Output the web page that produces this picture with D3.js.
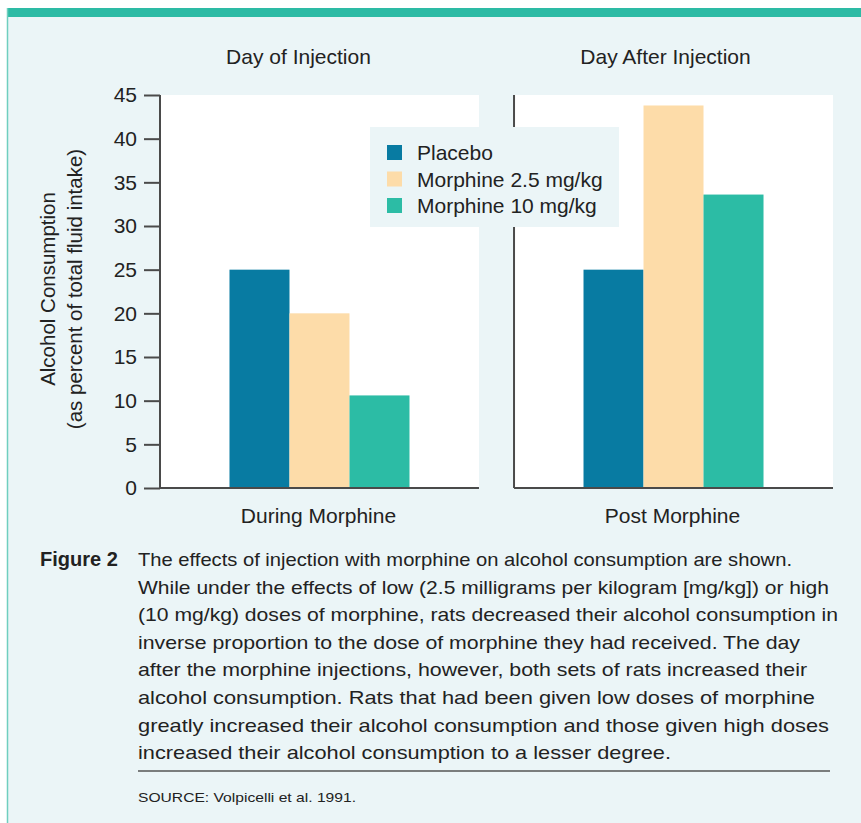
<!DOCTYPE html>
<html>
<head>
<meta charset="utf-8">
<script src="https://cdn.jsdelivr.net/npm/d3@7"></script>
<style>
  body { margin: 0; background: #fff; }
  svg { display: block; font-family: "Liberation Sans", Arial, Helvetica, sans-serif; }
</style>
</head>
<body>
<svg id="chart" width="861" height="823"></svg>
<script>
// data
var groups = ["During Morphine", "Post Morphine"];
var panelTitles = ["Day of Injection", "Day After Injection"];
var seriesNames = ["Placebo", "Morphine 2.5 mg/kg", "Morphine 10 mg/kg"];
var placebo = [25, 25];
var morphineLow = [20, 43.8];
var morphineHigh = [10.6, 33.6];
var yTicks = [0, 5, 10, 15, 20, 25, 30, 35, 40, 45];
var colors = ["#087ba2", "#fddca9", "#2cbca5"];

var captionLines = [
  "The effects of injection with morphine on alcohol consumption are shown.",
  "While under the effects of low (2.5 milligrams per kilogram [mg/kg]) or high",
  "(10 mg/kg) doses of morphine, rats decreased their alcohol consumption in",
  "inverse proportion to the dose of morphine they had received. The day",
  "after the morphine injections, however, both sets of rats increased their",
  "alcohol consumption. Rats that had been given low doses of morphine",
  "greatly increased their alcohol consumption and those given high doses",
  "increased their alcohol consumption to a lesser degree."
];
var captionWidths = [654, 691, 700, 662, 669, 677, 691, 533];

var fs = 21; // chart text size
var ink = "#222";

var svg = d3.select("#chart");

// panel background + teal top band
svg.append("rect").attr("x", 7).attr("y", 8).attr("width", 854).attr("height", 815)
    .attr("fill", "#ebf5f7");
svg.append("rect").attr("x", 7).attr("y", 8).attr("width", 854).attr("height", 9)
    .attr("fill", "#2dbba5");
svg.append("line").attr("x1", 7.5).attr("x2", 7.5).attr("y1", 8).attr("y2", 823)
    .attr("stroke", "#6fcfbf").attr("stroke-width", 1.5);

var y = d3.scaleLinear().domain([0, 45]).range([488, 95]);

var x0 = d3.scaleBand().domain(groups).range([160, 833]).paddingInner(0.099);
var bw = x0.bandwidth();
var x1 = d3.scaleBand().domain(seriesNames).range([bw / 2 - 90, bw / 2 + 90]);

var table = groups.map(function(g, i) {
  return { group: g, title: panelTitles[i], i: i,
           values: [placebo[i], morphineLow[i], morphineHigh[i]] };
});

var panel = svg.selectAll("g.panel")
    .data(table)
  .enter().append("g")
    .attr("class", "panel")
    .attr("transform", function(d) { return "translate(" + x0(d.group) + ",0)"; });

panel.append("rect")
    .attr("x", 1).attr("y", y(45))
    .attr("width", bw - 1).attr("height", y(0) - y(45))
    .attr("fill", "#fff");

panel.selectAll("rect.bar")
    .data(function(d) { return d.values.map(function(v, j) { return { name: seriesNames[j], value: v, c: colors[j] }; }); })
  .enter().append("rect")
    .attr("class", "bar")
    .attr("x", function(d) { return x1(d.name); })
    .attr("width", x1.bandwidth())
    .attr("y", function(d) { return y(d.value); })
    .attr("height", function(d) { return y(0) - y(d.value); })
    .attr("fill", function(d) { return d.c; });

panel.append("text")
    .attr("x", function(d) { return bw / 2 + (d.i === 0 ? -21 : -8); })
    .attr("y", 64)
    .attr("text-anchor", "middle")
    .attr("font-size", fs).attr("fill", ink)
    .text(function(d) { return d.title; });

panel.append("text")
    .attr("x", bw / 2 - 1).attr("y", 523)
    .attr("text-anchor", "middle")
    .attr("font-size", fs).attr("fill", ink)
    .text(function(d) { return d.group; });

// baselines and vertical axis lines
panel.append("line")
    .attr("x1", 0).attr("x2", bw).attr("y1", y(0)).attr("y2", y(0))
    .attr("stroke", "#4a4a4a").attr("stroke-width", 2);
panel.append("line")
    .attr("x1", 0).attr("x2", 0).attr("y1", y(45)).attr("y2", y(0))
    .attr("stroke", "#4a4a4a").attr("stroke-width", 2);

// left axis ticks
var yAxis = d3.axisLeft(y).tickValues(yTicks).tickSize(16).tickPadding(7);
var ax = svg.append("g").attr("transform", "translate(" + x0(groups[0]) + ",0)").call(yAxis);
ax.select(".domain").remove();
ax.selectAll("line").attr("stroke", "#4a4a4a").attr("stroke-width", 2);
ax.selectAll("text").attr("font-size", fs).attr("fill", ink)
    .attr("font-family", "Liberation Sans, Arial, sans-serif");

// y label
var yl = svg.append("g").attr("transform", "translate(0,289) rotate(-90)");
yl.append("text").attr("x", 0).attr("y", 54.5).attr("text-anchor", "middle")
    .attr("font-size", 20.5).attr("fill", ink).text("Alcohol Consumption");
yl.append("text").attr("x", 0).attr("y", 82).attr("text-anchor", "middle")
    .attr("font-size", 20.5).attr("fill", ink).text("(as percent of total fluid intake)");

// legend
var lg = svg.append("g").attr("transform", "translate(370,127)");
lg.append("rect").attr("width", 249).attr("height", 100).attr("fill", "#ebf5f7");
var item = lg.selectAll("g.item")
    .data(seriesNames)
  .enter().append("g")
    .attr("class", "item")
    .attr("transform", function(d, i) { return "translate(17," + (18 + i * 26.5) + ")"; });
item.append("rect").attr("width", 15).attr("height", 15)
    .attr("fill", function(d, i) { return colors[i]; });
item.append("text").attr("x", 30).attr("y", 15)
    .attr("font-size", fs).attr("fill", ink)
    .text(function(d) { return d; });

// caption
svg.append("text").attr("x", 40).attr("y", 566)
    .attr("font-size", 20).attr("font-weight", "bold").attr("fill", ink)
    .text("Figure 2");
svg.selectAll("text.cap")
    .data(captionLines)
  .enter().append("text")
    .attr("class", "cap")
    .attr("x", 138)
    .attr("y", function(d, i) { return 566 + i * 27.6; })
    .attr("font-size", 18.5).attr("fill", ink)
    .attr("textLength", function(d, i) { return captionWidths[i]; })
    .attr("lengthAdjust", "spacingAndGlyphs")
    .text(function(d) { return d; });

svg.append("line").attr("x1", 138).attr("x2", 830).attr("y1", 771).attr("y2", 771)
    .attr("stroke", "#555").attr("stroke-width", 1.5);
svg.append("text").attr("x", 138).attr("y", 802)
    .attr("font-size", 13).attr("fill", ink)
    .attr("textLength", 218).attr("lengthAdjust", "spacingAndGlyphs")
    .text("SOURCE: Volpicelli et al. 1991.");
</script>
</body>
</html>
